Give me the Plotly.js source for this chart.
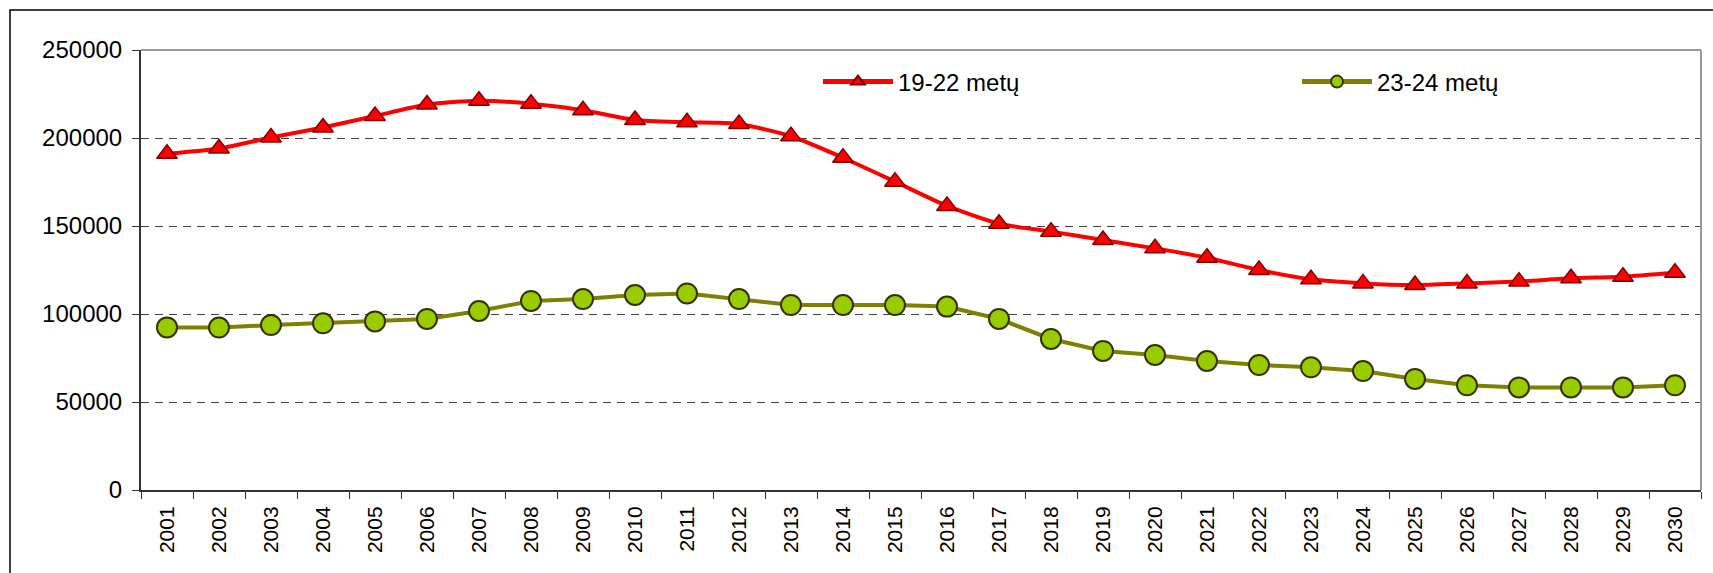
<!DOCTYPE html>
<html>
<head>
<meta charset="utf-8">
<script src="https://cdn.plot.ly/plotly-3.0.1.min.js"></script>
<style>
  html, body { margin: 0; padding: 0; background: #ffffff; }
  #chart { width: 1713px; height: 573px; }
</style>
</head>
<body>
<div id="chart"></div>
<script>
const years = ['2001','2002','2003','2004','2005','2006','2007','2008','2009','2010',
               '2011','2012','2013','2014','2015','2016','2017','2018','2019','2020',
               '2021','2022','2023','2024','2025','2026','2027','2028','2029','2030'];

const age19to22 = [191000, 194000, 200300, 206000, 212500, 219000, 221200, 219500, 215800, 210200,
                   208900, 208000, 201000, 188800, 175200, 161400, 151300, 146800, 142000, 137300,
                   132000, 125000, 119700, 117400, 116500, 117400, 118400, 120300, 121200, 123400];

const age23to24 = [92400, 92300, 93700, 94700, 95800, 97200, 101700, 107400, 108500, 110800,
                   111700, 108500, 105100, 105100, 105100, 104200, 97200, 85800, 79000, 76700,
                   73300, 71000, 69700, 67600, 63100, 59500, 58300, 58300, 58300, 59500];

const seriesNames = ['19-22 metų', '23-24 metų'];
const yTicks = [0, 50000, 100000, 150000, 200000, 250000];

const FONT = '"Liberation Sans", Arial, sans-serif';

const traces = [
  {
    x: years, y: age19to22, name: seriesNames[0], type: 'scatter', mode: 'lines+markers',
    line: { color: '#ff0000', width: 4, shape: 'spline', smoothing: 0.6 },
    marker: { symbol: 'triangle-up', size: 18, color: '#ff0000', line: { color: '#800000', width: 1.5 } },
    legend: 'legend', cliponaxis: false
  },
  {
    x: years, y: age23to24, name: seriesNames[1], type: 'scatter', mode: 'lines+markers',
    line: { color: '#808000', width: 4 },
    marker: { symbol: 'circle', size: 20, color: '#99cc00', line: { color: '#333300', width: 2 } },
    legend: 'legend2', cliponaxis: false
  }
];

const W = 1713, H = 573;
const L = 141, R = 12, T = 50, B = 83;
const pw = W - L - R, ph = H - T - B;
const px = v => (v - L) / pw;
const py = v => (H - B - v) / ph;

const legendCommon = {
  orientation: 'h', bgcolor: 'rgba(0,0,0,0)', borderwidth: 0,
  font: { family: FONT, size: 24, color: '#000000' },
  itemwidth: 70, itemsizing: 'constant',
  yanchor: 'middle', xanchor: 'left', itemclick: false
};

const layout = {
  width: W, height: H,
  margin: { l: L, r: R, t: T, b: B, pad: 0 },
  paper_bgcolor: '#ffffff', plot_bgcolor: '#ffffff',
  font: { family: FONT, size: 20, color: '#000000' },
  showlegend: true,
  legend: Object.assign({}, legendCommon, { x: px(818), y: py(82) }),
  legend2: Object.assign({}, legendCommon, { x: px(1297), y: py(82) }),
  xaxis: {
    type: 'category', range: [-0.5, 29.5], fixedrange: true,
    showgrid: false, zeroline: false,
    showline: true, linecolor: '#333333', linewidth: 2,
    ticks: 'outside', ticklen: 7, tickwidth: 1, tickcolor: '#333333',
    tickson: 'boundaries',
    tickangle: -90, tickfont: { family: FONT, size: 21, color: '#000000' },
    ticklabelstandoff: 6
  },
  yaxis: {
    range: [0, 250000], fixedrange: true,
    tickvals: yTicks, ticktext: yTicks.map(String),
    showgrid: true, gridcolor: '#404040', gridwidth: 1, griddash: '8px,6px',
    zeroline: false,
    showline: true, linecolor: '#333333', linewidth: 2,
    ticks: 'outside', ticklen: 7, tickwidth: 1, tickcolor: '#333333',
    tickfont: { family: FONT, size: 24, color: '#000000' },
    ticklabelstandoff: 5
  },
  shapes: [
    { type: 'line', xref: 'paper', yref: 'paper', x0: 0, x1: 1, y0: 1, y1: 1,
      line: { color: '#9a9a9a', width: 2 }, layer: 'above' },
    { type: 'line', xref: 'paper', yref: 'paper', x0: 1, x1: 1, y0: 0, y1: 1,
      line: { color: '#9a9a9a', width: 2 }, layer: 'above' },
    { type: 'rect', xref: 'paper', yref: 'paper', x0: px(10), x1: px(1740), y0: py(600), y1: py(10),
      line: { color: '#000000', width: 1.5 }, fillcolor: 'rgba(0,0,0,0)', layer: 'below' }
  ]
};

Plotly.newPlot('chart', traces, layout, { staticPlot: true, displayModeBar: false });
</script>
</body>
</html>
